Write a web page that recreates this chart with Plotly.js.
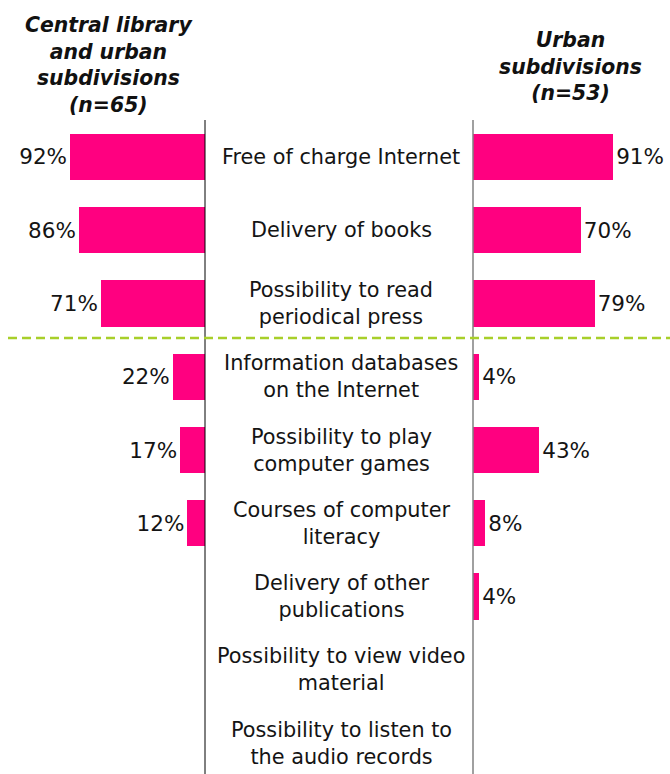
<!DOCTYPE html>
<html><head><meta charset="utf-8">
<script src="https://cdn.plot.ly/plotly-3.0.1.min.js"></script>
<style>body{margin:0;background:#fff}#chart{width:670px;height:774px}</style>
</head><body><div id="chart"></div>
<script>
const categories = [
  "Free of charge Internet",
  "Delivery of books",
  "Possibility to read<br>periodical press",
  "Information databases<br>on the Internet",
  "Possibility to play<br>computer games",
  "Courses of computer<br>literacy",
  "Delivery of other<br>publications",
  "Possibility to view video<br>material",
  "Possibility to listen to<br>the audio records"
];
const centralValues = [92, 86, 71, 22, 17, 12, 0, 0, 0];
const urbanValues   = [91, 70, 79, 4, 43, 8, 4, 0, 0];
const leftTitle = "<b><i>Central library<br>and urban<br>subdivisions<br>(n=65)</i></b>";
const rightTitle = "<b><i>Urban<br>subdivisions<br>(n=53)</i></b>";

const W = 670, H = 774;
const FONT = "DejaVu Sans, Verdana, sans-serif";
const pink = "#ff0080";
const idx = categories.map((c, i) => i);
const lbl = v => v > 0 ? v + "%" : "";

const traces = [
  {type: "bar", orientation: "h", x: centralValues, y: idx, xaxis: "x", yaxis: "y",
   marker: {color: pink}, width: 0.63, text: centralValues.map(lbl),
   textposition: "outside", cliponaxis: false,
   textfont: {family: FONT, size: 21.5, color: "#141414"}, hoverinfo: "skip"},
  {type: "bar", orientation: "h", x: urbanValues, y: idx, xaxis: "x2", yaxis: "y",
   marker: {color: pink}, width: 0.63, text: urbanValues.map(lbl),
   textposition: "outside", cliponaxis: false,
   textfont: {family: FONT, size: 21.5, color: "#141414"}, hoverinfo: "skip"}
];

const annotations = categories.map((c, i) => ({
  text: c, x: 341 / W, xref: "paper", y: i, yref: "y", showarrow: false,
  xanchor: "center", yanchor: "middle", align: "center",
  font: {family: FONT, size: 20.8, color: "#141414"}
}));
const plotH = H - 120;
annotations.push({text: leftTitle, xref: "paper", yref: "paper", x: 109 / W,
  y: (H - 65) / plotH, xanchor: "center", yanchor: "middle", showarrow: false,
  align: "center", font: {family: FONT, size: 20.4, color: "#111"}});
annotations.push({text: rightTitle, xref: "paper", yref: "paper", x: 570 / W,
  y: (H - 66) / plotH, xanchor: "center", yanchor: "middle", showarrow: false,
  align: "center", font: {family: FONT, size: 20.4, color: "#111"}});

const layout = {
  width: W, height: H,
  margin: {l: 0, r: 0, t: 120, b: 0, pad: 0},
  paper_bgcolor: "#fff", plot_bgcolor: "#fff",
  showlegend: false,
  bargap: 0,
  xaxis: {domain: [58.3 / W, 205 / W], range: [100, 0], visible: false, fixedrange: true},
  xaxis2: {domain: [473 / W, 627 / W], range: [0, 100], visible: false, fixedrange: true},
  yaxis: {range: [8.423, -0.505], visible: false, fixedrange: true},
  annotations: annotations,
  shapes: [
    {type: "line", xref: "paper", yref: "paper", x0: 205 / W, x1: 205 / W, y0: 0, y1: 1,
     line: {color: "#000", width: 1}},
    {type: "line", xref: "paper", yref: "paper", x0: 473 / W, x1: 473 / W, y0: 0, y1: 1,
     line: {color: "#808080", width: 1.5}},
    {type: "line", xref: "paper", yref: "y", x0: 8 / W, x1: 1, y0: 2.47, y1: 2.47,
     line: {color: "#a8cf2a", width: 2.5, dash: "9px,5px"}}
  ]
};

Plotly.newPlot("chart", traces, layout, {displayModeBar: false, staticPlot: true});
</script>
</body></html>
